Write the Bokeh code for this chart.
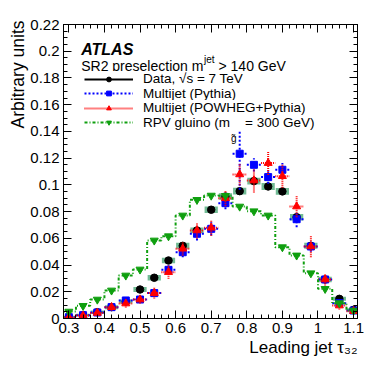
import math
from bokeh.plotting import figure
from bokeh.models import (Range1d, FixedTicker, LinearAxis, Label, Legend, LegendItem,
                          CustomJSTickFormatter, Title)
from bokeh.embed import file_html
from bokeh.resources import INLINE

# ---------------- data ----------------
bin_centers = [0.30, 0.34, 0.38, 0.42, 0.46, 0.50, 0.54, 0.58, 0.62, 0.66, 0.70,
               0.74, 0.78, 0.82, 0.86, 0.90, 0.94, 0.98, 1.02, 1.06, 1.10]
bin_half = 0.02

data_vals = [0.0010, 0.0025, 0.0047, 0.0085, 0.0128, 0.0217, 0.0305, 0.0434, 0.0544, 0.0659, 0.0814,
             0.0913, 0.0953, 0.1028, 0.0988, 0.0951, 0.0758, 0.0544, 0.0292, 0.0147, 0.0065]
data_stat = [0.0004, 0.0005, 0.0006, 0.0008, 0.0009, 0.0010, 0.0011, 0.0012, 0.0013, 0.0014, 0.0015,
             0.0015, 0.0016, 0.0016, 0.0016, 0.0016, 0.0014, 0.0012, 0.0010, 0.0008, 0.0006]
data_syst = [0.0010, 0.0010, 0.0012, 0.0015, 0.0015, 0.0018, 0.0020, 0.0020, 0.0022, 0.0022, 0.0024,
             0.0025, 0.0026, 0.0026, 0.0026, 0.0025, 0.0024, 0.0022, 0.0020, 0.0015, 0.0012]

pythia_vals = [0.0010, 0.0025, 0.0045, 0.0085, 0.0135, 0.0142, 0.0190, 0.0364, 0.0496, 0.0634, 0.0671,
               0.0863, 0.1233, 0.1150, 0.1058, 0.1113, 0.0743, 0.0539, 0.0292, 0.0115, 0.0060]
pythia_err = [0.0010, 0.0012, 0.0015, 0.0020, 0.0025, 0.0025, 0.0030, 0.0035, 0.0037, 0.0050, 0.0050,
              0.0045, 0.0270, 0.0050, 0.0050, 0.0050, 0.0060, 0.0040, 0.0030, 0.0020, 0.0015]

powheg_vals = [0.0008, 0.0022, 0.0042, 0.0085, 0.0112, 0.0142, 0.0190, 0.0347, 0.0522, 0.0659, 0.0679,
               0.0900, 0.1078, 0.1033, 0.1163, 0.1065, 0.0838, 0.0539, 0.0292, 0.0097, 0.0055]
powheg_err = [0.0010, 0.0012, 0.0018, 0.0025, 0.0030, 0.0030, 0.0040, 0.0050, 0.0050, 0.0060, 0.0060,
              0.0060, 0.0080, 0.0090, 0.0090, 0.0087, 0.0080, 0.0080, 0.0045, 0.0030, 0.0020]

rpv_vals = [0.0052, 0.0095, 0.0142, 0.0210, 0.0322, 0.0367, 0.0584, 0.0616, 0.0771, 0.0888, 0.0920,
            0.0918, 0.0838, 0.0803, 0.0771, 0.0534, 0.0472, 0.0339, 0.0222, 0.0115, 0.0060]

x_ticks = [0.3, 0.4, 0.5, 0.6, 0.7, 0.8, 0.9, 1.0, 1.1]
y_ticks = [0.0, 0.02, 0.04, 0.06, 0.08, 0.10, 0.12, 0.14, 0.16, 0.18, 0.20, 0.22]

legend_labels = ["Data, \u221As = 7 TeV", "Multijet (Pythia)", "Multijet (POWHEG+Pythia)",
                 "RPV gluino (m    = 300 GeV)"]
x_title = "Leading jet \u03c4\u2083\u2082"
y_title = "Arbitrary units"

# ---------------- styling ----------------
FONT = "Liberation Sans"
TEAL = "#72bb95"
BLUE = "#0000ff"
RED = "#ff0000"
GREEN = "#0f9f0f"

p = figure(width=382, height=367, output_backend="svg", toolbar_location=None,
           x_range=Range1d(0.285, 1.111), y_range=Range1d(0.0, 0.22),
           x_axis_type=None, y_axis_type=None,
           min_border_left=63, min_border_right=25, min_border_top=24, min_border_bottom=49)
p.outline_line_color = "black"
p.background_fill_color = "white"
p.border_fill_color = "white"

x_minor = [round(0.28 + 0.02 * i, 2) for i in range(43)]
y_minor = [round(0.005 * i, 3) for i in range(45)]

fmt = CustomJSTickFormatter(code="""
let s = tick.toFixed(2);
s = s.replace(/0+$/, '').replace(/\\.$/, '');
return s;
""")
blank_fmt = CustomJSTickFormatter(code="return '';")


def make_axis(loc, ticks, minor, show_labels):
    ax = LinearAxis()
    ax.ticker = FixedTicker(ticks=ticks, minor_ticks=minor)
    ax.major_tick_in = 8
    ax.major_tick_out = 0
    ax.minor_tick_in = 4
    ax.minor_tick_out = 0
    ax.axis_line_color = "black"
    ax.major_tick_line_color = "black"
    ax.minor_tick_line_color = "black"
    ax.major_label_text_font = FONT
    if show_labels:
        ax.formatter = fmt
        ax.major_label_text_color = "black"
        ax.major_label_text_font_size = "15px"
        ax.major_label_standoff = 4
    else:
        ax.formatter = blank_fmt
        ax.major_label_text_color = None
        ax.major_label_text_font_size = "1px"
        ax.major_label_standoff = 0
    p.add_layout(ax, loc)
    return ax


make_axis("below", x_ticks, x_minor, True)
make_axis("left", y_ticks, y_minor, True)
make_axis("above", x_ticks, x_minor, False)
make_axis("right", y_ticks, y_minor, False)

# axis titles (right / top aligned as in the reference)
p.add_layout(Title(text=x_title, align="right", text_font=FONT, text_font_size="17px",
                   text_font_style="normal", text_color="black", standoff=0, offset=0), "below")
p.add_layout(Title(text=y_title, align="right", text_font=FONT, text_font_size="17.5px",
                   text_font_style="normal", text_color="black", standoff=0, offset=-4), "left")

# ---------------- glyphs ----------------
xl = [c - bin_half for c in bin_centers]
xr = [c + bin_half for c in bin_centers]

# data systematic boxes
box_l = [c - bin_half * 0.93 for c in bin_centers]
box_r = [c + bin_half * 0.93 for c in bin_centers]
p.quad(left=box_l, right=box_r,
       bottom=[v - s for v, s in zip(data_vals, data_syst)],
       top=[v + s for v, s in zip(data_vals, data_syst)],
       fill_color=TEAL, line_color=None)
data_band_leg = p.line(x=[], y=[], line_color=TEAL, line_width=11, line_cap="butt")

# data points
data_err = p.segment(x0=bin_centers, x1=bin_centers,
                     y0=[v - e for v, e in zip(data_vals, data_stat)],
                     y1=[v + e for v, e in zip(data_vals, data_stat)],
                     line_color="black", line_width=2)
data_pts = p.scatter(bin_centers, data_vals, marker="circle", size=7.5,
                     fill_color="black", line_color="black")

# Pythia (blue)
p.segment(x0=xl, x1=xr, y0=pythia_vals, y1=pythia_vals,
          line_color=BLUE, line_width=2, line_dash="2 2")
py_err = p.segment(x0=bin_centers, x1=bin_centers,
                   y0=[v - e for v, e in zip(pythia_vals, pythia_err)],
                   y1=[v + e for v, e in zip(pythia_vals, pythia_err)],
                   line_color=BLUE, line_width=2, line_dash="2 2")
py_pts = p.scatter(bin_centers, pythia_vals, marker="square", size=7,
                   fill_color=BLUE, line_color=BLUE)

# POWHEG (red)
p.segment(x0=xl, x1=xr, y0=powheg_vals, y1=powheg_vals,
          line_color=RED, line_width=2, line_dash="1 1")
pw_err = p.segment(x0=bin_centers, x1=bin_centers,
                   y0=[v - e for v, e in zip(powheg_vals, powheg_err)],
                   y1=[v + e for v, e in zip(powheg_vals, powheg_err)],
                   line_color=RED, line_width=2, line_dash="1 1")
pw_pts = p.scatter(bin_centers, powheg_vals, marker="triangle", size=8,
                   fill_color=RED, line_color=RED)

# RPV gluino (green) step histogram
edges = xl + [xr[-1]]
rpv_step = p.step(x=edges, y=rpv_vals + [rpv_vals[-1]], mode="after",
                  line_color=GREEN, line_width=2, line_dash="3 2 1 2")
rpv_pts = p.scatter(bin_centers, rpv_vals, marker="inverted_triangle", size=8,
                    fill_color=GREEN, line_color=GREEN)

# ---------------- legend: one row per Legend so that the row pitch is exact ----------------
legend_rows = [
    (legend_labels[0], [data_band_leg, data_err, data_pts], 232.0),
    (legend_labels[1], [py_err, py_pts], 217.5),
    (legend_labels[2], [pw_err, pw_pts], 203.0),
    (legend_labels[3], [rpv_step, rpv_pts], 188.5),
]
for lab, rends, ybot in legend_rows:
    lg = Legend(items=[LegendItem(label=lab, renderers=rends)])
    lg.location = (21, ybot)
    lg.padding = 0
    lg.margin = 0
    lg.spacing = 0
    lg.glyph_width = 49
    lg.glyph_height = 12
    lg.label_height = 14
    lg.label_standoff = 10
    lg.label_text_font = FONT
    lg.label_text_font_size = "13.5px"
    lg.label_text_line_height = 1.0
    lg.label_text_color = "black"
    lg.background_fill_color = "white"
    lg.background_fill_alpha = 1.0
    lg.border_line_alpha = 0
    p.add_layout(lg, "center")

# ---------------- texts ----------------
p.add_layout(Label(x=17.7, y=269, x_units="screen", y_units="screen", text="ATLAS",
                   text_font=FONT, text_font_style="bold italic", text_font_size="16px",
                   text_color="black", text_baseline="alphabetic"))
p.add_layout(Label(x=17.7, y=253, x_units="screen", y_units="screen",
                   text="SR2 preselection m", text_font=FONT, text_font_size="14px",
                   text_color="black", text_baseline="alphabetic"))
p.add_layout(Label(x=140.5, y=259.5, x_units="screen", y_units="screen",
                   text="jet", text_font=FONT, text_font_size="10px",
                   text_color="black", text_baseline="alphabetic"))
p.add_layout(Label(x=155, y=253, x_units="screen", y_units="screen",
                   text="> 140 GeV", text_font=FONT, text_font_size="14px",
                   text_color="black", text_baseline="alphabetic"))
# subscript of the gluino mass in the legend
p.add_layout(Label(x=167.5, y=180, x_units="screen", y_units="screen",
                   text="g\u0303", text_font=FONT, text_font_size="10px",
                   text_color="black", text_baseline="alphabetic"))

open("out.html", "w").write(file_html(p, INLINE))
